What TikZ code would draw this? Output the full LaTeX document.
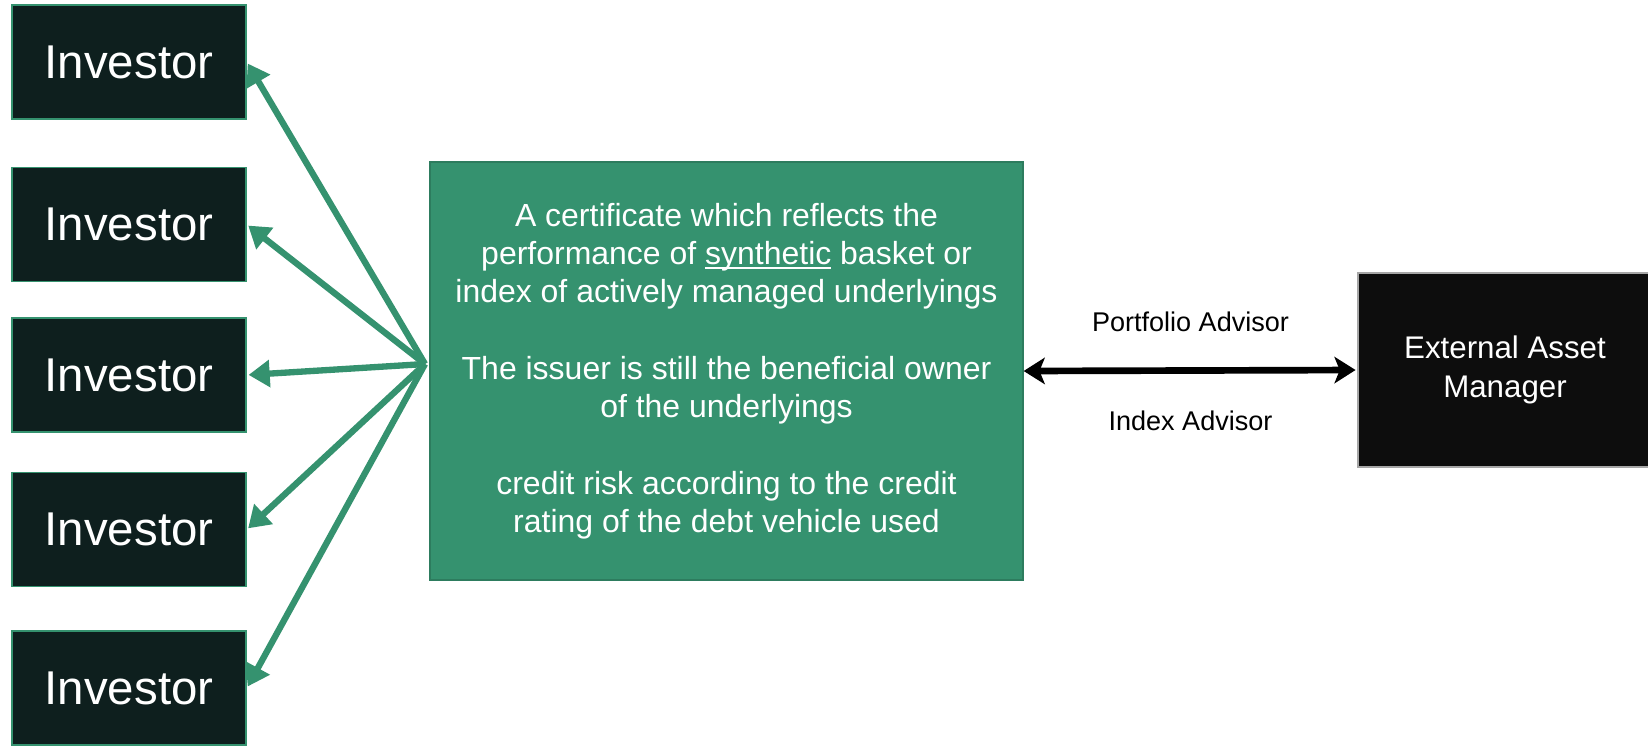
\documentclass[tikz,border=0pt]{standalone}
\usepackage{fontspec}
\setmainfont{Liberation Sans}
\usepackage{tikz}
\usetikzlibrary{arrows.meta}
\definecolor{certgreen}{HTML}{35926F}
\definecolor{invdark}{HTML}{0E1F1E}
\definecolor{eamdark}{HTML}{0D0D0D}
\newcommand{\synline}[1]{\setbox0\hbox{#1}\rlap{\rule[-2.6pt]{\wd0}{1pt}}#1}

\begin{document}
\begin{tikzpicture}[x=0.02cm,y=-0.02cm,shorten >=1pt,-{Triangle[length=12pt,width=15pt]}]
			\tikzstyle{investor}=[rectangle,fill=invdark,draw=certgreen,line width=1pt,text=white,minimum width=4.68cm,minimum height=2.28cm,font=\fontsize{27}{32}\selectfont]
			\tikzstyle{cert}=[rectangle,fill=certgreen,draw=certgreen!85!black,line width=0.8pt,text=white,align=center,minimum width=11.86cm,minimum height=8.36cm,font=\fontsize{18.2}{21.8}\selectfont]
			\tikzstyle{eam}=[rectangle,fill=eamdark,draw=gray!70,line width=0.8pt,text=white,align=center,minimum width=5.88cm,minimum height=3.88cm,font=\fontsize{17.8}{22.2}\selectfont]
			\tikzstyle{spoke}=[certgreen,line width=3.6pt]
			\useasboundingbox (0,0) rectangle (1648,745);
			\node[investor] (Inv_1) at (129,62)    {Investor};
			\node[investor] (Inv_2) at (129,224.5) {Investor};
			\node[investor] (Inv_3) at (129,375)   {Investor};
			\node[investor] (Inv_4) at (129,529.5) {Investor};
			\node[investor] (Inv_5) at (129,688)   {Investor};
			\node[cert] (Cert) at (726.5,371) {A certificate which reflects the\\performance of \synline{synthetic} basket or\\index of actively managed underlyings\\[21.8pt]The issuer is still the beneficial owner\\of the underlyings\\[21.8pt]credit risk according to the credit\\rating of the debt vehicle used};
			\node[eam] (EAM) at (1505,370) {External Asset\\Manager};
			\coordinate (hub) at (425,364);
			\draw[spoke] (hub) -- (Inv_1.east);
			\draw[spoke] (hub) -- (Inv_2.east);
			\draw[spoke] (hub) -- (Inv_3.east);
			\draw[spoke] (hub) -- (Inv_4.east);
			\draw[spoke] (hub) -- (Inv_5.east);
			\draw[{Stealth[length=12pt,width=15pt,inset=3pt]}-{Stealth[length=12pt,width=15pt,inset=3pt]},line width=3.8pt,black] (Cert.east) -- node[above=0.6cm,font=\fontsize{15.4}{18}\selectfont]{Portfolio Advisor} node[below=0.62cm,font=\fontsize{15.4}{18}\selectfont]{Index Advisor} (EAM.west);
			\end{tikzpicture}
\end{document}
